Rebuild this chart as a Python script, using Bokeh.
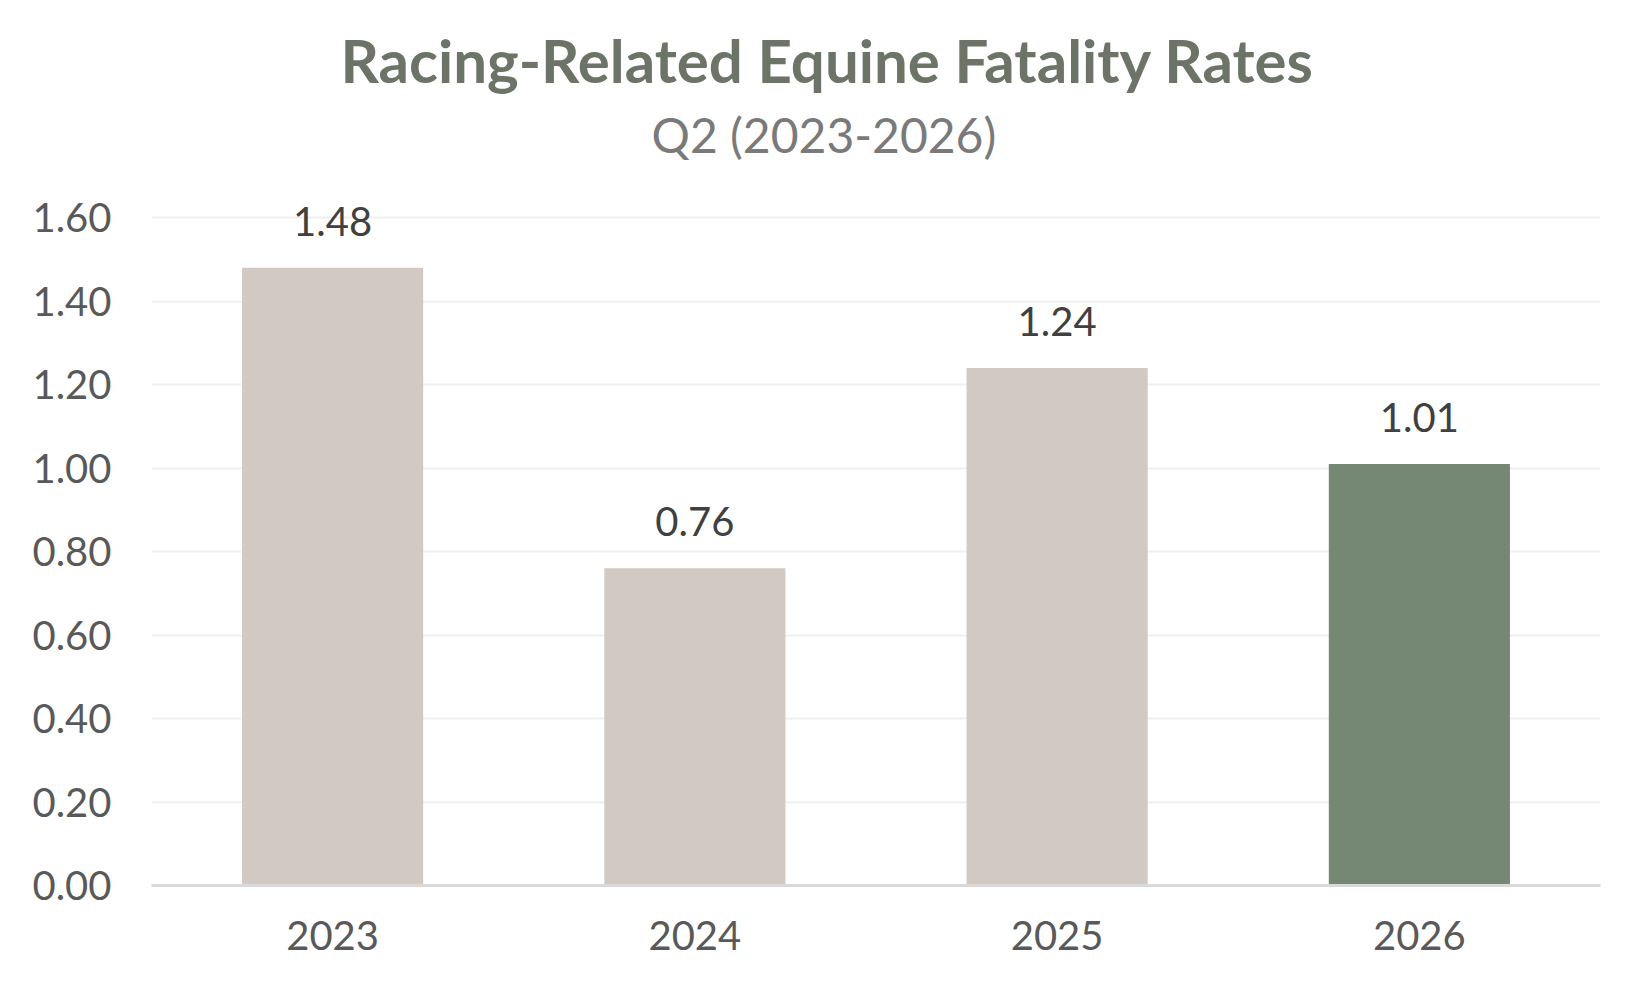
from bokeh.plotting import figure
from bokeh.models import ColumnDataSource, Title, FixedTicker, NumeralTickFormatter, Range1d
from bokeh.core.properties import value
from bokeh.embed import file_html
from bokeh.resources import INLINE

years = ["2023", "2024", "2025", "2026"]
rates = [1.48, 0.76, 1.24, 1.01]
bar_colors = ["#d1c9c2", "#d1c9c2", "#d1c9c2", "#748873"]
rate_labels = ["1.48", "0.76", "1.24", "1.01"]
y_ticks = [0.0, 0.2, 0.4, 0.6, 0.8, 1.0, 1.2, 1.4, 1.6]
title_text = "Racing-Related Equine Fatality Rates"
subtitle_text = "Q2 (2023-2026)"

FONT = "Lato"

src = ColumnDataSource(dict(x=years, top=rates, color=bar_colors, label=rate_labels))

p = figure(x_range=years, y_range=Range1d(0, 1.665), width=1634, height=974,
           output_backend="svg", toolbar_location=None, tools="", title=None,
           min_border_left=151, min_border_right=34, min_border_top=190, min_border_bottom=89)
p.outline_line_color = None
p.background_fill_color = "white"

p.vbar(x="x", top="top", width=0.5, color="color", source=src, line_color=None)
p.text(x="x", y="top", text="label", source=src, text_align="center", text_baseline="bottom",
       y_offset=-32, text_font=value(FONT), text_font_size="40px", text_color="#404040")

p.yaxis.ticker = FixedTicker(ticks=y_ticks)
p.yaxis.formatter = NumeralTickFormatter(format="0.00")
p.yaxis.axis_line_color = None
p.yaxis.major_tick_line_color = None
p.yaxis.minor_tick_line_color = None
p.yaxis.major_label_standoff = 34
p.yaxis.major_label_text_font = FONT
p.yaxis.major_label_text_font_size = "40px"
p.yaxis.major_label_text_color = "#595959"

p.xaxis.axis_line_color = "#d9d9d9"
p.xaxis.axis_line_width = 3
p.xaxis.major_tick_line_color = None
p.xaxis.minor_tick_line_color = None
p.xaxis.major_label_standoff = 29
p.xaxis.major_label_text_font = FONT
p.xaxis.major_label_text_font_size = "40px"
p.xaxis.major_label_text_color = "#595959"

p.xgrid.grid_line_color = None
p.ygrid.grid_line_color = "#efefef"
p.ygrid.grid_line_width = 2

p.add_layout(Title(text=subtitle_text, align="left", offset=500, standoff=56,
                   text_font=FONT, text_font_style="normal", text_font_size="48px",
                   text_line_height=0.8, text_color="#7a7a7a"), "above")
p.add_layout(Title(text=title_text, align="left", offset=189, standoff=-40,
                   text_font=FONT, text_font_style="bold", text_font_size="60px",
                   text_color="#6b7466"), "above")

open("out.html", "w").write(file_html(p, INLINE))
